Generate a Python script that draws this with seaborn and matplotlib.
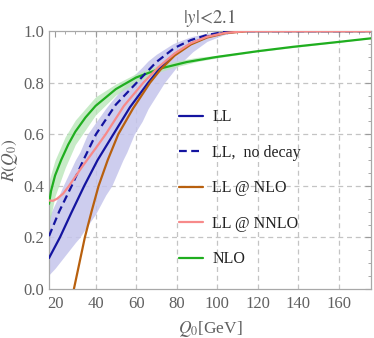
import numpy as np
import pandas as pd
import matplotlib
matplotlib.use("Agg")
import matplotlib.pyplot as plt
import seaborn as sns
from matplotlib.ticker import MultipleLocator

# ---------------- data ----------------
ll_x = [17, 22.4, 28, 34.4, 41, 48.8, 57, 66, 72, 79, 87, 95, 103, 113, 176]
ll_y = [0.12, 0.2, 0.295, 0.4, 0.5, 0.6, 0.705, 0.8, 0.858, 0.91, 0.951, 0.978, 0.993, 1.0, 1.0]

nodecay_x = [17, 22, 28.2, 34, 40.2, 50, 60.3, 70, 79, 87, 95, 106, 176]
nodecay_y = [0.205, 0.3, 0.4, 0.5, 0.6, 0.715, 0.8, 0.88, 0.935, 0.965, 0.985, 1.0, 1.0]

nlo_ll_x = [29.3, 32, 34.7, 38, 41.5, 46, 51.2, 58.5, 66.9, 72, 79, 87, 95, 104, 115, 176]
nlo_ll_y = [0.0, 0.1, 0.2, 0.3, 0.4, 0.5, 0.6, 0.7, 0.8, 0.85, 0.905, 0.948, 0.975, 0.992, 1.0, 1.0]

nnlo_ll_x = [17, 19, 21, 24, 26.9, 33, 40, 45, 54, 63.6, 71, 79, 87, 95, 104, 115, 176]
nnlo_ll_y = [0.343, 0.342, 0.35, 0.37, 0.4, 0.47, 0.545, 0.6, 0.71, 0.8, 0.86, 0.913, 0.953, 0.978, 0.993, 1.0, 1.0]

nlo_x = [17, 18, 20, 23, 26.5, 30, 35, 40, 50, 60, 72, 85, 100, 120, 137.5, 160, 176]
nlo_y = [0.33, 0.38, 0.44, 0.5, 0.56, 0.61, 0.665, 0.71, 0.775, 0.82, 0.855, 0.88, 0.9, 0.922, 0.939, 0.958, 0.972]

llband_x = [17, 20, 24, 30, 32.2, 36, 40, 45, 48, 53.5, 55.4, 59.1, 63, 66, 70, 74, 78, 80, 86, 88, 95, 103, 104, 112, 176]
llband_lo = [0.055, 0.08, 0.12, 0.18, 0.2, 0.245, 0.29, 0.364, 0.4, 0.5, 0.53, 0.6, 0.65, 0.7, 0.75, 0.8, 0.84, 0.86, 0.905, 0.92, 0.96, 0.985, 0.987, 1.0, 1.0]
llband_hi = [0.28, 0.33, 0.4, 0.5, 0.53, 0.6, 0.645, 0.7, 0.73, 0.78, 0.8, 0.83, 0.86, 0.885, 0.91, 0.93, 0.95, 0.957, 0.975, 0.98, 0.992, 0.999, 1.0, 1.0, 1.0]

nloband_x = [17, 20, 25, 30, 40, 50, 60, 70, 80, 90, 100, 120, 176]
nloband_lo = [0.25, 0.36, 0.47, 0.56, 0.675, 0.752, 0.802, 0.838, 0.862, 0.882, 0.896, 0.92, 0.971]
nloband_hi = [0.42, 0.5, 0.59, 0.655, 0.745, 0.795, 0.835, 0.865, 0.884, 0.898, 0.906, 0.925, 0.973]

labels = ["LL", "LL,  no decay", "LL @ NLO", "LL @ NNLO", "NLO"]
xticks = [20, 40, 60, 80, 100, 120, 140, 160]
yticks = [0.0, 0.2, 0.4, 0.6, 0.8, 1.0]
xgrid = [40, 60, 80, 100, 120, 140, 160]
ygrid = [0.2, 0.4, 0.6, 0.8]

# ---------------- style ----------------
sns.set_theme(style="white")
plt.rcParams["font.family"] = ["Liberation Serif", "DejaVu Serif"]
plt.rcParams["mathtext.fontset"] = "stix"

c_ll = "#1414a0"
c_brown = "#b8600e"
c_pink = "#f78a8a"
c_green = "#1fae1f"
c_band = "#c5c5ec"
c_gband = "#b9e6b9"
grey_txt = "#606060"

fig = plt.figure(figsize=(3.74, 3.38), dpi=100)
ax = fig.add_axes([0.131, 0.145, 0.861, 0.763])

for v in xgrid:
    ax.axvline(v, color="#c4c4c4", lw=0.9, ls=(0, (4, 3)), zorder=0)
for v in ygrid:
    ax.axhline(v, color="#c4c4c4", lw=0.9, ls=(0, (4, 3)), zorder=0)

ax.fill_between(llband_x, llband_lo, llband_hi, color=c_band, alpha=0.85, lw=0, zorder=1)
ax.fill_between(nloband_x, nloband_lo, nloband_hi, color=c_gband, alpha=0.8, lw=0, zorder=1)

sns.lineplot(x=nlo_x, y=nlo_y, ax=ax, color=c_green, lw=1.6, sort=False, label=labels[4], zorder=3)
sns.lineplot(x=ll_x, y=ll_y, ax=ax, color=c_ll, lw=1.6, sort=False, label=labels[0], zorder=3)
sns.lineplot(x=nodecay_x, y=nodecay_y, ax=ax, color=c_ll, lw=1.6, sort=False, label=labels[1], zorder=3)
ax.lines[-1].set_linestyle((0, (3.5, 2)))
sns.lineplot(x=nlo_ll_x, y=nlo_ll_y, ax=ax, color=c_brown, lw=1.6, sort=False, label=labels[2], zorder=3)
sns.lineplot(x=nnlo_ll_x, y=nnlo_ll_y, ax=ax, color=c_pink, lw=1.6, sort=False, label=labels[3], zorder=4)

ax.set_xlim(17, 176)
ax.set_ylim(0, 1)
ax.set_xticks(xticks)
ax.set_yticks(yticks)
ax.set_yticklabels([f"{v:.1f}" for v in yticks])
ax.xaxis.set_minor_locator(MultipleLocator(5))
ax.yaxis.set_minor_locator(MultipleLocator(0.05))
ax.tick_params(which="both", direction="in", top=True, right=True, colors="#9a9a9a",
               labelcolor=grey_txt, labelsize=12)
ax.tick_params(which="major", length=4.5, width=0.8)
ax.tick_params(which="minor", length=2.5, width=0.6)
ax.tick_params(axis="x", which="major", pad=5)
for s in ax.spines.values():
    s.set_color("#a8a8a8")
    s.set_linewidth(0.9)

ax.set_xlabel(r"$Q_0$[GeV]", color=grey_txt, fontsize=12.5, labelpad=5)
ax.set_ylabel(r"$R(Q_0)$", color=grey_txt, fontsize=12.5, labelpad=2)
ax.set_title(r"$|y|\!<\!2.1$", color=grey_txt, fontsize=13.5, pad=6)

handles, labs = ax.get_legend_handles_labels()
order = [labs.index(l) for l in labels]
leg = ax.legend([handles[i] for i in order], [labs[i] for i in order],
                loc="upper left", bbox_to_anchor=(0.405, 0.697), frameon=False,
                fontsize=11.5, handlelength=1.45, handletextpad=0.6, labelspacing=1.22,
                borderpad=0, borderaxespad=0)
for t in leg.get_texts():
    t.set_color("#222222")

fig.savefig("out.png", dpi=100)
